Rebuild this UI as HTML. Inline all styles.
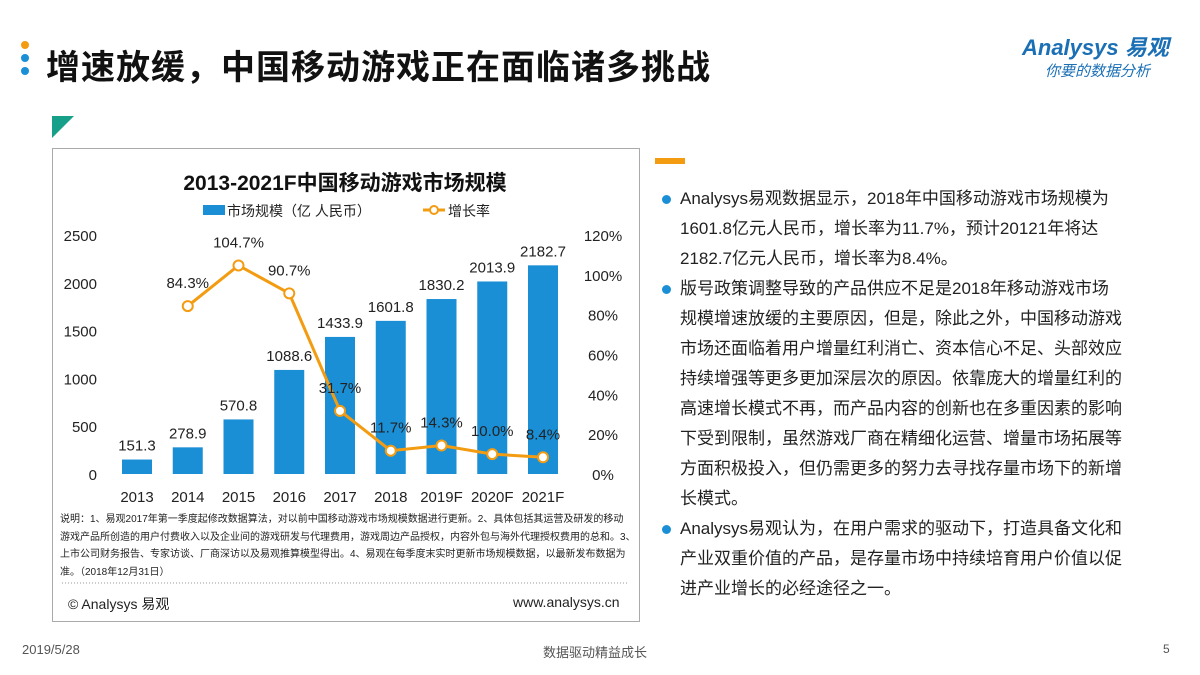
<!DOCTYPE html>
<html><head><meta charset="utf-8">
<style>
body{margin:0;width:1200px;height:675px;background:#fff;position:relative;overflow:hidden;font-family:"Liberation Sans","Noto Sans CJK SC",sans-serif;color:#222}
.abs{position:absolute}
.rt p{margin:0;font-size:17px;line-height:30px;color:#222;position:relative;padding-left:20px;white-space:nowrap}
.rt p:before{content:"";position:absolute;left:2px;top:11px;width:9px;height:9px;border-radius:50%;background:#1a8fd6}
</style></head><body>
<div class="abs" style="left:21px;top:41px">
<div style="width:8px;height:8px;border-radius:50%;background:#f39c12;margin-bottom:5px"></div>
<div style="width:8px;height:8px;border-radius:50%;background:#1a8fd6;margin-bottom:5px"></div>
<div style="width:8px;height:8px;border-radius:50%;background:#1a8fd6"></div></div>
<div class="abs" style="left:46px;top:40px;font-size:34px;letter-spacing:1px;font-weight:bold;color:#111">增速放缓，中国移动游戏正在面临诸多挑战</div>
<div class="abs" style="left:1022px;top:30px;color:#1a6fb5;font-size:22px;font-style:italic;font-weight:bold">Analysys 易观</div>
<div class="abs" style="left:1045px;top:60px;color:#1a6fb5;font-size:15px;font-style:italic">你要的数据分析</div>
<div class="abs" style="left:52px;top:116px;width:0;height:0;border-top:22px solid #16a089;border-right:22px solid transparent"></div>
<div class="abs" style="left:655px;top:158px;width:30px;height:6px;background:#f39c12"></div>
<div class="abs" style="left:52px;top:148px;width:586px;height:472px;border:1px solid #aaa"></div>
<svg class="abs" style="left:0;top:0" width="1200" height="675">
<text x="345" y="190" text-anchor="middle" font-size="21" font-weight="bold" fill="#111">2013-2021F中国移动游戏市场规模</text>
<rect x="203" y="205" width="22" height="10" fill="#1a8fd6"/>
<text x="227" y="216" font-size="14" fill="#222">市场规模（亿 人民币）</text>
<line x1="423" y1="210" x2="445" y2="210" stroke="#f39c12" stroke-width="3"/>
<circle cx="434" cy="210" r="4" fill="#fff" stroke="#f39c12" stroke-width="2"/>
<text x="448" y="216" font-size="14" fill="#222">增长率</text>
<g id="g"></g>
<line x1="62" y1="583" x2="628" y2="583" stroke="#999" stroke-dasharray="1,2"/>
</svg>
<div class="abs" style="left:60px;top:511px;width:580px;font-size:10px;line-height:17.5px;color:#222;white-space:nowrap">说明：1、易观2017年第一季度起修改数据算法，对以前中国移动游戏市场规模数据进行更新。2、具体包括其运营及研发的移动<br>游戏产品所创造的用户付费收入以及企业间的游戏研发与代理费用，游戏周边产品授权，内容外包与海外代理授权费用的总和。3、<br>上市公司财务报告、专家访谈、厂商深访以及易观推算模型得出。4、易观在每季度末实时更新市场规模数据，以最新发布数据为<br>准。（2018年12月31日）</div>
<div class="abs" style="left:68px;top:594px;font-size:14px">© Analysys 易观</div>
<div class="abs" style="left:513px;top:594px;font-size:14px">www.analysys.cn</div>
<div class="abs rt" style="left:660px;top:184px;width:490px">
<p>Analysys易观数据显示，2018年中国移动游戏市场规模为<br>1601.8亿元人民币，增长率为11.7%，预计20121年将达<br>2182.7亿元人民币，增长率为8.4%。</p>
<p>版号政策调整导致的产品供应不足是2018年移动游戏市场<br>规模增速放缓的主要原因，但是，除此之外，中国移动游戏<br>市场还面临着用户增量红利消亡、资本信心不足、头部效应<br>持续增强等更多更加深层次的原因。依靠庞大的增量红利的<br>高速增长模式不再，而产品内容的创新也在多重因素的影响<br>下受到限制，虽然游戏厂商在精细化运营、增量市场拓展等<br>方面积极投入，但仍需更多的努力去寻找存量市场下的新增<br>长模式。</p>
<p>Analysys易观认为，在用户需求的驱动下，打造具备文化和<br>产业双重价值的产品，是存量市场中持续培育用户价值以促<br>进产业增长的必经途径之一。</p>
</div>
<div class="abs" style="left:22px;top:642px;font-size:13px;color:#555">2019/5/28</div>
<div class="abs" style="left:543px;top:642px;font-size:13px;color:#555">数据驱动精益成长</div>
<div class="abs" style="left:1163px;top:642px;font-size:12px;color:#555">5</div>
<script>
const categories=["2013","2014","2015","2016","2017","2018","2019F","2020F","2021F"];
const sizeValues=[151.3,278.9,570.8,1088.6,1433.9,1601.8,1830.2,2013.9,2182.7];
const growthValues=[null,84.3,104.7,90.7,31.7,11.7,14.3,10.0,8.4];
const leftTicks=[0,500,1000,1500,2000,2500];
const rightTicks=[0,20,40,60,80,100,120];
const NS="http://www.w3.org/2000/svg";
const g=document.getElementById('g');
const x0=137,step=50.75,yBase=474,yTop=235;
const xs=i=>x0+i*step;
const yL=v=>yBase-v/2500*(yBase-yTop);
const yR=v=>yBase-v/120*(yBase-yTop);
function mk(t,a,txt){const e=document.createElementNS(NS,t);for(const k in a)e.setAttribute(k,a[k]);if(txt!=null)e.textContent=txt;g.appendChild(e);return e;}
leftTicks.forEach(v=>{const e=mk('text',{x:97,y:yL(v)+6,'text-anchor':'end','font-size':15,fill:'#222'},v);

});
rightTicks.forEach(v=>{const e=mk('text',{x:603,y:yR(v)+6,'text-anchor':'middle','font-size':15,fill:'#222'},v+'%');

});
categories.forEach((c,i)=>{
const b=mk('rect',{x:xs(i)-15,y:yL(sizeValues[i]),width:30,height:yBase-yL(sizeValues[i]),fill:'#1a8fd6'});


const l=mk('text',{x:xs(i),y:yL(sizeValues[i])-9,'text-anchor':'middle','font-size':15,fill:'#222'},sizeValues[i].toFixed(1));


const t=mk('text',{x:xs(i),y:502,'text-anchor':'middle','font-size':15,fill:'#222'},c);

});
let pts=[];growthValues.forEach((v,i)=>{if(v!=null)pts.push(xs(i)+','+yR(v));});
const pl=mk('polyline',{points:pts.join(' '),fill:'none',stroke:'#f39c12','stroke-width':3});


growthValues.forEach((v,i)=>{if(v==null)return;
const c=mk('circle',{cx:xs(i),cy:yR(v),r:5,fill:'#fff',stroke:'#f39c12','stroke-width':2});


const t=mk('text',{x:xs(i),y:yR(v)-18,'text-anchor':'middle','font-size':15,fill:'#222'},v.toFixed(1)+'%');

});
</script>
</body></html>
